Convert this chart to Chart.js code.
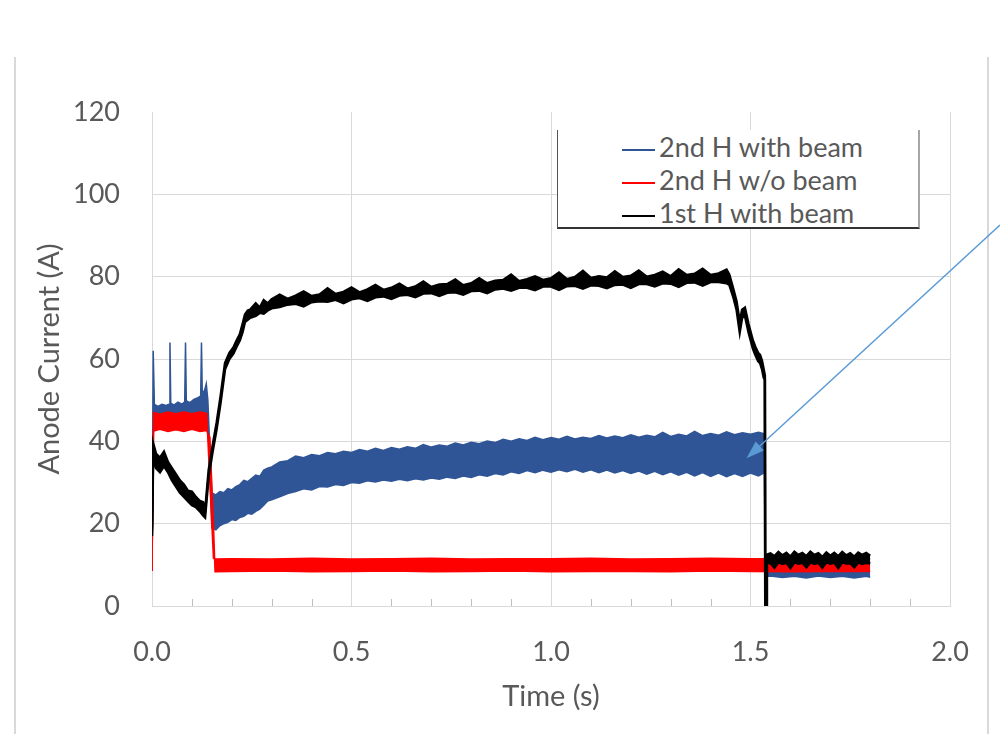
<!DOCTYPE html>
<html>
<head>
<meta charset="utf-8">
<script src="https://cdn.jsdelivr.net/npm/chart.js@4.4.1/dist/chart.umd.min.js"></script>
<style>
  body { margin: 0; background: #fff; }
  #wrap { position: relative; width: 1000px; height: 734px; }
  #legend {
    position: absolute; left: 557px; top: 130px; width: 360px; height: 97px;
    background: #fff; border-left: 1px solid #555; border-right: 2px solid #a6a6a6; border-bottom: 2px solid #333;
    font-family: Lato, sans-serif; font-size: 27px; color: #595959;
  }
  .row { position: absolute; left: 64px; height: 33px; line-height: 33px; white-space: nowrap; }
  .row span.sw { display: inline-block; width: 33px; height: 2px; vertical-align: middle; margin-right: 4px; }
</style>
</head>
<body>
<div id="wrap">
  <canvas id="anodo"></canvas>
  <div id="legend">
    <div class="row" style="top:0px"><span class="sw" style="background:#2f5597"></span>2nd H with beam</div>
    <div class="row" style="top:33px"><span class="sw" style="background:#ff0000"></span>2nd H w/o beam</div>
    <div class="row" style="top:66px"><span class="sw" style="background:#000000"></span>1st H with beam</div>
  </div>
</div>
<script>
// Ejes
const xTicks = [0.0, 0.5, 1.0, 1.5, 2.0];
const yTicks = [0, 20, 40, 60, 80, 100, 120];

// 1st H with beam (traza negra, borde superior / inferior)
const tBlack = [0, 0.003, 0.01, 0.02, 0.03, 0.04, 0.05, 0.06, 0.07, 0.08, 0.09, 0.10, 0.11, 0.12, 0.128, 0.133,
  0.142, 0.152, 0.162, 0.172, 0.183, 0.194, 0.204, 0.212, 0.22, 0.227, 0.233, 0.24, 0.246, 0.26, 0.27, 0.28, 0.29,
  0.30, 0.32, 0.34, 0.36, 0.38, 0.40, 0.42, 0.44, 0.46, 0.48, 0.50, 0.52, 0.54, 0.56, 0.58, 0.60, 0.62, 0.64, 0.66,
  0.68, 0.70, 0.72, 0.74, 0.76, 0.78, 0.80, 0.82, 0.84, 0.86, 0.88, 0.90, 0.92, 0.94, 0.96, 0.98, 1.00, 1.02, 1.04,
  1.06, 1.08, 1.10, 1.12, 1.14, 1.16, 1.18, 1.20, 1.22, 1.24, 1.26, 1.28, 1.30, 1.32, 1.34, 1.36, 1.38, 1.40, 1.42,
  1.44, 1.447, 1.457, 1.465, 1.473, 1.479, 1.486, 1.495, 1.506, 1.512, 1.519, 1.524, 1.529, 1.533, 1.536, 1.537,
  1.539, 1.541, 1.55, 1.56, 1.57, 1.58, 1.59, 1.60, 1.61, 1.62, 1.63, 1.64, 1.65, 1.66, 1.67, 1.68, 1.69, 1.70,
  1.71, 1.72, 1.73, 1.74, 1.75, 1.76, 1.77, 1.78, 1.79, 1.80];
const blackHigh = [18.5, 39.5, 37, 36, 37.5, 35, 33.5, 32, 30.5, 29.5, 28, 27.8, 26.5, 25.5, 25.2, 23,
  33, 39, 44.5, 51, 59, 61.5, 62.8, 64.5, 66, 68.5, 70.8, 71.8, 72, 73.5, 72.5, 74.3, 73.5,
  74.5, 75.6, 74.6, 75.4, 76.4, 75.3, 75.7, 77.2, 75.8, 76.3, 77.4, 76.2, 76.9, 78.0, 76.8, 77.3, 78.3, 77.1, 77.6,
  78.8, 77.5, 78.1, 78.2, 79.3, 77.9, 78.4, 79.6, 78.4, 79.0, 79.2, 80.5, 78.9, 79.4, 80.1, 79.2, 79.6, 81.0, 79.4,
  79.9, 81.4, 79.7, 80.1, 79.8, 81.3, 79.9, 80.2, 81.5, 80.0, 80.4, 81.2, 80.1, 81.8, 80.4, 80.7, 81.9, 80.4, 80.8,
  81.7, 80.5, 77, 74, 69, 72, 72.5, 68.5, 64.5, 63, 61.5, 61, 59.5, 57.5, 56, 0,
  0, 12.5, 12.8, 12.1, 13.1, 12.3, 12.9, 12.0, 13.2, 12.4, 12.9, 12.1, 13.2, 12.4, 12.8, 11.9, 13.0, 12.2,
  12.9, 12.1, 13.1, 12.3, 12.8, 12.0, 13.0, 12.4, 12.9, 12.2];
const blackLow = [17, 36.5, 33.5, 32.5, 34, 32.5, 30.5, 29, 27.5, 26.5, 25.5, 24.5, 24, 23, 22, 21.5,
  31.5, 37.5, 43, 49.5, 57.5, 60, 61.3, 63, 64.5, 66.5, 69, 69.5, 70, 70.5, 71.2, 71, 71.8,
  72.3, 72.6, 73.2, 73.4, 72.8, 73.8, 74, 73.9, 74.4, 73.6, 74.5, 74.8, 74.1, 75, 75.2, 74.6, 75.4, 75.6, 75.0,
  75.9, 76.0, 75.3, 76.1, 76.2, 75.6, 76.5, 76.6, 76.0, 76.9, 77.1, 76.6, 77.3, 77.3, 76.7, 77.6, 77.6, 76.8, 77.7,
  77.8, 77.1, 77.9, 77.8, 77.2, 78.0, 78.1, 77.3, 78.2, 78.2, 77.6, 78.4, 78.3, 77.5, 78.5, 78.6, 77.8, 78.7, 78.7,
  78.4, 78, 75, 72, 66.5, 70, 70.5, 66.5, 62.5, 61, 59.5, 59, 57.5, 55.5, 55, 0,
  0, 10.5, 10.4, 9.3, 10.6, 10.2, 10.5, 9.2, 10.6, 10.3, 10.5, 9.4, 10.6, 10.2, 10.5, 9.3, 10.6, 10.3,
  10.5, 9.2, 10.6, 10.3, 10.4, 9.4, 10.6, 10.2, 10.5, 10.3];

// 2nd H w/o beam (banda roja)
const tRed = [0, 0.002, 0.004, 0.02, 0.04, 0.06, 0.08, 0.10, 0.12, 0.137, 0.145, 0.154, 0.158,
  0.20, 0.30, 0.40, 0.50, 0.60, 0.70, 0.80, 0.90, 1.00, 1.10, 1.20, 1.30, 1.40, 1.50, 1.60, 1.70, 1.80];
const redHigh = [9.5, 9.5, 47, 46.6, 47.1, 46.7, 47.1, 46.7, 47.1, 46.8, 30, 11.6, 11.4,
  11.5, 11.4, 11.6, 11.4, 11.5, 11.6, 11.4, 11.5, 11.5, 11.6, 11.4, 11.5, 11.6, 11.5, 11.5, 11.6, 11.5];
const redLow = [8.5, 8.5, 42.5, 42.9, 42.4, 42.8, 42.4, 42.9, 42.4, 42.6, 41, 20, 8.3,
  8.4, 8.5, 8.3, 8.4, 8.5, 8.3, 8.4, 8.5, 8.3, 8.4, 8.4, 8.3, 8.5, 8.4, 8.3, 8.4, 8.4];

// 2nd H with beam (banda azul)
const tBlue = [0, 0.002, 0.003, 0.006, 0.015, 0.025, 0.035, 0.043, 0.045, 0.047, 0.055, 0.065, 0.075, 0.082,
  0.084, 0.086, 0.095, 0.105, 0.115, 0.122, 0.124, 0.126, 0.132, 0.136, 0.14, 0.145, 0.150, 0.16, 0.17, 0.18,
  0.19, 0.20, 0.21, 0.22, 0.23, 0.24, 0.25, 0.26, 0.27, 0.28, 0.29, 0.30, 0.32, 0.34, 0.36, 0.38, 0.40, 0.42,
  0.44, 0.46, 0.48, 0.50, 0.52, 0.54, 0.56, 0.58, 0.60, 0.62, 0.64, 0.66, 0.68, 0.70, 0.72, 0.74, 0.76, 0.78,
  0.80, 0.82, 0.84, 0.86, 0.88, 0.90, 0.92, 0.94, 0.96, 0.98, 1.00, 1.02, 1.04, 1.06, 1.08, 1.10, 1.12, 1.14,
  1.16, 1.18, 1.20, 1.22, 1.24, 1.26, 1.28, 1.30, 1.32, 1.34, 1.36, 1.38, 1.40, 1.42, 1.44, 1.46, 1.48, 1.50,
  1.52, 1.535, 1.537, 1.55, 1.58, 1.61, 1.64, 1.67, 1.70, 1.73, 1.76, 1.79, 1.80];
const blueHigh = [9.5, 9.5, 62, 49, 48.5, 49, 48.7, 49, 64, 49.3, 48.8, 49.5, 49, 49.6,
  64, 49.8, 49.4, 50.2, 50.6, 51, 64, 51.5, 52.5, 54, 50, 38, 27.5, 27, 27.8, 27.5,
  28.5, 28.2, 29, 29.5, 30.5, 30.2, 31, 31.8, 31.5, 33, 33.5, 33.8, 35, 35.3, 36.4, 36, 36.8, 36.5,
  37.3, 37, 37.6, 37.3, 38.0, 37.6, 38.3, 37.8, 38.5, 38.1, 38.7, 38.3, 39.2, 38.6, 39.1, 38.8, 39.6, 39.1,
  39.8, 39.4, 40.1, 39.7, 40.5, 40.0, 40.6, 40.2, 41.0, 40.4, 40.9, 40.5, 41.2, 40.6, 41.0, 40.7, 41.4, 40.8,
  41.3, 40.9, 41.6, 41.0, 41.5, 41.1, 42.2, 41.2, 41.7, 41.3, 42.4, 41.4, 41.9, 41.5, 42.3, 41.6, 42.1, 41.7,
  42.2, 41.8, 10.5, 10.6, 10.4, 10.7, 10.5, 10.6, 10.4, 10.7, 10.5, 10.6, 10.5];
const blueLow = [8.5, 8.5, 42, 43.5, 44, 43.8, 44.2, 44, 44, 44.2, 44.5, 44.2, 44.6, 44.4,
  44.5, 44.6, 44.8, 44.6, 45, 44.8, 45, 45, 45.2, 45, 44.5, 33, 19, 18.5, 19.5, 20,
  20.3, 21, 20.8, 21.5, 21.8, 22.5, 22.3, 23, 23.5, 24.5, 25.5, 25.8, 26.5, 27.3, 27.8, 28.5, 28.2, 29,
  28.9, 29.5, 29.3, 30, 29.8, 30.4, 30.1, 30.6, 30.3, 30.8, 30.4, 30.9, 30.6, 31.1, 30.8, 31.3, 31.0, 31.6,
  31.2, 31.9, 31.5, 32.2, 31.8, 32.6, 32.2, 32.9, 32.4, 33.0, 32.5, 33.1, 32.6, 33.2, 32.5, 33.1, 32.4, 33.0,
  32.3, 32.9, 32.2, 32.8, 32.0, 32.7, 31.9, 32.6, 31.8, 32.5, 31.6, 32.4, 31.5, 32.3, 31.4, 32.2, 31.5, 32.3,
  31.6, 32.4, 7.2, 7.3, 6.9, 7.2, 6.8, 7.3, 6.9, 7.2, 6.8, 7.2, 7.0];

// Punta de la flecha (en unidades del grafico)
const arrowTip = { x: 1.49, y: 35.9 };

const pts = (ts, vs) => ts.map((t, i) => ({ x: t, y: vs[i] }));

const textGray = '#595959';
const gridGray = '#d9d9d9';

// Marco exterior de la diapositiva
const marco = {
  id: 'marco',
  beforeDraw(chart) {
    const ctx = chart.ctx;
    ctx.save();
    ctx.strokeStyle = '#d9d9d9';
    ctx.lineWidth = 2;
    ctx.beginPath();
    ctx.moveTo(15, 57); ctx.lineTo(15, chart.height);
    ctx.moveTo(988, 57); ctx.lineTo(988, chart.height);
    ctx.stroke();
    ctx.restore();
  }
};

// Marcas menores del eje x cada 0.1 s
const marcasMenores = {
  id: 'marcasMenores',
  afterDatasetsDraw(chart) {
    const ctx = chart.ctx, x = chart.scales.x, y0 = chart.chartArea.bottom;
    ctx.save();
    ctx.strokeStyle = '#bfbfbf';
    ctx.lineWidth = 1;
    ctx.beginPath();
    for (let k = 1; k < 20; k++) {
      if (k % 5 === 0) continue;
      const px = Math.round(x.getPixelForValue(k / 10)) + 0.5;
      ctx.moveTo(px, y0); ctx.lineTo(px, y0 - 7);
    }
    ctx.stroke();
    ctx.restore();
  }
};

// Flecha azul que apunta a la traza azul
const flecha = {
  id: 'flecha',
  afterDraw(chart) {
    const ctx = chart.ctx;
    const tx = chart.scales.x.getPixelForValue(arrowTip.x);
    const ty = chart.scales.y.getPixelForValue(arrowTip.y);
    const sx = chart.width, sy = 225;
    const ang = Math.atan2(ty - sy, tx - sx);
    const len = 18, half = 6;
    ctx.save();
    ctx.strokeStyle = '#5b9bd5';
    ctx.fillStyle = '#5b9bd5';
    ctx.lineWidth = 1.5;
    ctx.beginPath();
    ctx.moveTo(sx, sy);
    ctx.lineTo(tx - Math.cos(ang) * len * 0.8, ty - Math.sin(ang) * len * 0.8);
    ctx.stroke();
    ctx.beginPath();
    ctx.moveTo(tx, ty);
    ctx.lineTo(tx - Math.cos(ang) * len - Math.sin(ang) * half, ty - Math.sin(ang) * len + Math.cos(ang) * half);
    ctx.lineTo(tx - Math.cos(ang) * len + Math.sin(ang) * half, ty - Math.sin(ang) * len - Math.cos(ang) * half);
    ctx.closePath();
    ctx.fill();
    ctx.restore();
  }
};

function banda(data, color, width, fill) {
  return {
    data: data,
    borderColor: color,
    backgroundColor: color,
    borderWidth: width,
    pointRadius: 0,
    tension: 0,
    fill: fill
  };
}

const ctxAnodo = document.getElementById('anodo').getContext('2d');
new Chart(ctxAnodo, {
  type: 'line',
  data: {
    datasets: [
      banda(pts(tBlack, blackHigh), '#000000', 2.5, '+1'),
      banda(pts(tBlack, blackLow), '#000000', 2.5, false),
      banda(pts(tRed, redHigh), '#ff0000', 1.5, '+1'),
      banda(pts(tRed, redLow), '#ff0000', 1.5, false),
      banda(pts(tBlue, blueHigh), '#2f5597', 1.5, '+1'),
      banda(pts(tBlue, blueLow), '#2f5597', 1.5, false)
    ]
  },
  options: {
    responsive: true,
    maintainAspectRatio: false,
    animation: false,
    layout: { padding: { top: 112, right: 50, left: 0, bottom: 0 } },
    plugins: {
      legend: { display: false },
      tooltip: { enabled: false }
    },
    scales: {
      x: {
        type: 'linear',
        min: 0, max: 2,
        afterFit: (s) => { s.height = 128; },
        afterBuildTicks: (s) => { s.ticks = xTicks.map(v => ({ value: v })); },
        ticks: {
          padding: 30,
          color: textGray,
          font: { family: 'Lato', size: 27 },
          callback: (v) => Number(v).toFixed(1)
        },
        grid: { color: gridGray, drawTicks: false },
        border: { color: gridGray, width: 1 },
        title: {
          display: true, text: 'Time (s)', color: textGray,
          font: { family: 'Lato', size: 29 }, padding: { bottom: 20 }
        }
      },
      y: {
        min: 0, max: 120,
        afterFit: (s) => { s.width = 152; },
        afterBuildTicks: (s) => { s.ticks = yTicks.map(v => ({ value: v })); },
        ticks: {
          padding: 32,
          color: textGray,
          font: { family: 'Lato', size: 27 }
        },
        grid: {
          drawTicks: false,
          color: (c) => (c.tick && c.tick.value === 120 ? 'rgba(0,0,0,0)' : gridGray)
        },
        border: { color: gridGray, width: 1 },
        title: {
          display: true, text: 'Anode Current (A)', color: textGray,
          font: { family: 'Lato', size: 29 }, padding: { top: 32 }
        }
      }
    }
  },
  plugins: [marco, marcasMenores, flecha]
});
</script>
</body>
</html>
